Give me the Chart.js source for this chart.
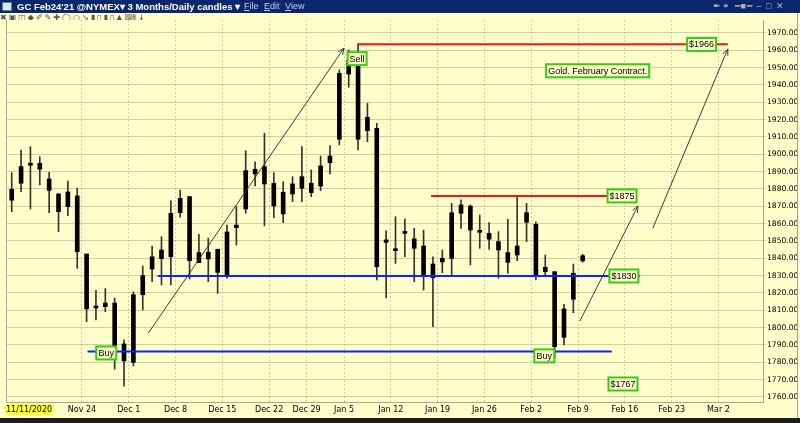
<!DOCTYPE html>
<html>
<head>
<meta charset="utf-8">
<script src="https://cdn.jsdelivr.net/npm/chart.js@4.4.1/dist/chart.umd.min.js"></script>
<style>
    html, body { margin: 0; padding: 0; width: 800px; height: 423px; overflow: hidden; background: #ffffcc; }
    #wrap { position: relative; width: 800px; height: 423px; }
    #cashless { position: absolute; left: 0; top: 0; }
    #titlebar { position: absolute; left: 0; top: 0; width: 800px; height: 13px; background: #0b266c; color: #fff; font: bold 9px "Liberation Sans", Arial, sans-serif; line-height: 13px; white-space: nowrap; }
    #titlebar .logo { position: absolute; left: 2px; top: 2px; width: 10px; height: 9px; background: #d8e8f0; border: 1px solid #5a8a5a; box-sizing: border-box; }
    #titlebar .name { position: absolute; left: 17px; top: 0; font-size: 9.5px; }
    #titlebar .menu { position: absolute; left: 244px; top: 0; font-weight: normal; color: #c8d0e8; word-spacing: 3px; }
    #titlebar .tools { position: absolute; left: 713px; top: 0; font-weight: normal; color: #b0b4c0; font-size: 9px; letter-spacing: 1px; }
    #toolbar { position: absolute; left: 0; top: 13px; width: 260px; height: 7px; overflow: hidden; color: #555; font: 8px "DejaVu Sans", sans-serif; line-height: 10px; white-space: nowrap; letter-spacing: 2px; }
    #rightedge { position: absolute; left: 797px; top: 13px; width: 1px; height: 405px; background: #a0a0a0; }
    #bottombar { position: absolute; left: 0; top: 418px; width: 800px; height: 5px; background: #1c1c1c; }
</style>
</head>
<body>
<div id="wrap">
    <canvas id="cashless" width="800" height="423"></canvas>
    <div id="titlebar">
        <span class="logo"></span>
        <span class="name">GC Feb24'21 @NYMEX&#9662; 3 Months/Daily candles &#9662;</span>
        <span class="menu"><u>F</u>ile <u>E</u>dit <u>V</u>iew</span>
        <span class="tools">&#10002;&#9901; &#9473;&#9632;&#9473; &#8210; &#9633; &#10005;</span>
    </div>
    <div id="toolbar">&#10006;&#9635;&#9707;&#9670;&#10000;&#9998;&#10010;&#9711;&#9675;&#8600;&#9646;&#9647;&#9646;&#9647;&#9650;&#9000;&#8595;</div>
    <div id="rightedge"></div>
    <div id="bottombar"></div>
</div>

<script>
/* ==========================================================
   Gold February contract - daily candles
==========================================================*/

// candles from Nov 12 2020 to Feb 9 2021 (trading-day index 1..62)
const candleOpen = [
    1873.5, 1883.3, 1894.2, 1894.8, 1885.8, 1877.1, 1869.8, 1876.0, 1842.5, 1811.7,
    1812.1, 1814.2, 1790.6, 1780.0, 1819.0, 1833.8, 1839.8, 1840.9, 1866.3, 1875.6,
    1837.5, 1843.5, 1845.2, 1829.8, 1857.7, 1868.5, 1891.4, 1892.9, 1883.3, 1865.6,
    1877.1, 1880.4, 1883.3, 1881.7, 1895.2, 1908.7, 1946.3, 1952.5, 1913.6, 1915.0,
    1849.2, 1845.4, 1854.4, 1851.2, 1847.1, 1828.8, 1837.9, 1840.0, 1866.0, 1870.2,
    1855.4, 1854.4, 1849.6, 1843.3, 1841.9, 1860.8, 1859.6, 1834.8, 1832.3, 1794.4,
    1816.4, 1838.5
];

const candleHigh = [
    1889.4, 1902.5, 1904.4, 1898.6, 1889.6, 1877.5, 1884.6, 1880.4, 1842.5, 1821.6,
    1822.5, 1817.0, 1792.9, 1820.7, 1835.6, 1847.1, 1852.5, 1873.1, 1879.4, 1875.6,
    1853.9, 1851.6, 1845.4, 1859.2, 1869.8, 1902.1, 1895.7, 1912.1, 1889.4, 1884.2,
    1887.1, 1904.4, 1891.0, 1899.0, 1905.0, 1948.7, 1960.2, 1963.1, 1929.4, 1917.9,
    1855.8, 1864.0, 1862.7, 1857.3, 1856.3, 1840.9, 1844.8, 1871.7, 1873.7, 1870.8,
    1865.0, 1860.6, 1855.4, 1862.5, 1875.6, 1871.7, 1861.1, 1841.9, 1832.3, 1813.5,
    1836.7, 1842.3
];

const candleLow = [
    1866.9, 1878.4, 1868.5, 1882.3, 1866.3, 1855.4, 1864.6, 1834.2, 1803.4, 1804.4,
    1809.2, 1776.0, 1766.3, 1777.9, 1810.2, 1826.5, 1824.6, 1824.6, 1863.7, 1828.1,
    1840.0, 1826.5, 1819.8, 1828.5, 1847.7, 1866.0, 1881.7, 1858.7, 1863.4, 1860.6,
    1872.7, 1872.7, 1875.6, 1879.0, 1888.7, 1905.4, 1938.7, 1902.5, 1907.3, 1827.5,
    1817.1, 1837.1, 1840.9, 1826.5, 1821.7, 1800.6, 1831.7, 1830.4, 1857.3, 1836.2,
    1845.8, 1845.2, 1828.5, 1831.4, 1838.6, 1849.6, 1827.5, 1829.8, 1782.3, 1790.0,
    1808.6, 1837.8
];

const candleClose = [
    1879.8, 1892.9, 1893.7, 1891.4, 1879.2, 1866.9, 1878.3, 1843.8, 1810.8, 1811.3,
    1814.2, 1788.0, 1780.8, 1819.0, 1830.0, 1840.9, 1844.8, 1866.0, 1874.6, 1838.6,
    1843.3, 1839.6, 1831.9, 1855.2, 1859.2, 1890.6, 1888.7, 1882.9, 1870.2, 1878.1,
    1882.9, 1887.1, 1877.9, 1893.3, 1899.0, 1946.7, 1954.4, 1908.7, 1921.4, 1835.2,
    1850.6, 1844.4, 1855.4, 1845.8, 1829.4, 1836.7, 1840.0, 1866.3, 1870.8, 1856.3,
    1855.0, 1851.0, 1844.8, 1837.7, 1847.1, 1866.3, 1830.4, 1832.3, 1789.0, 1810.8,
    1831.4, 1841.5
];

// week labels on the x axis and the trading-day index they start on
const weekLabels = [
    "Nov 24", "Dec 1", "Dec 8", "Dec 15", "Dec 22", "Dec 29", "Jan 5", "Jan 12",
    "Jan 19", "Jan 26", "Feb 2", "Feb 9", "Feb 16", "Feb 23", "Mar 2"
];

const weekStart = [9, 14, 19, 24, 29, 33, 37, 42, 47, 52, 57, 62, 67, 72, 77];

const startDate = "11/11/2020";

const priceTicks = [
    1760, 1770, 1780, 1790, 1800, 1810, 1820, 1830, 1840, 1850, 1860,
    1870, 1880, 1890, 1900, 1910, 1920, 1930, 1940, 1950, 1960, 1970
];

// horizontal levels: [from index, to index, price]
const redLevels = [
    [37.9, 77.5, 1963.5],
    [45.8, 65.1, 1876.0]
];

const blueLevels = [
    [16.6, 68.1, 1829.8],
    [9.1, 65.1, 1786.2]
];

// arrows: [from index, from price, to index, to price]
const arrowLines = [
    [15.6, 1796.9, 36.5, 1961.3],
    [61.7, 1803.8, 67.9, 1870.2],
    [69.5, 1857.5, 77.5, 1960.8]
];

// text callouts: [text, index, price]
const callouts = [
    ["$1966", 74.7, 1963.4],
    ["$1875", 66.2, 1876.0],
    ["$1830", 66.4, 1829.8],
    ["$1767", 66.3, 1767.5],
    ["Buy", 11.1, 1785.4],
    ["Buy", 57.9, 1783.7],
    ["Sell", 37.9, 1955.2],
    ["Gold. February Contract.", 63.6, 1948.2]
];

// =====================================
// Build datasets
// =====================================

const wickData = candleHigh.map((h, k) => ({ x: k + 1, y: [candleLow[k], h] }));

const bodyData = candleOpen.map((o, k) => ({
    x: k + 1,
    y: [Math.min(o, candleClose[k]), Math.max(o, candleClose[k])]
}));

const levelSet = (lv, color) => lv.map(l => ({
    type: "line",
    data: [{ x: l[0], y: l[2] }, { x: l[1], y: l[2] }],
    borderColor: color,
    borderWidth: 2,
    pointRadius: 0,
    order: 1
}));

const arrowSet = arrowLines.map(a => ({
    type: "line",
    data: [{ x: a[0], y: a[1] }, { x: a[2], y: a[3] }],
    borderColor: "#3a3a3a",
    borderWidth: 1,
    pointRadius: 0,
    order: 1
}));

// =====================================
// Overlay plugin (arrowheads, boxes, start date)
// =====================================

const overlay = {

    id: "overlay",

    beforeDatasetsDraw(chart) {

        const ctx = chart.ctx;
        const area = chart.chartArea;

        // left edge of the plot
        ctx.save();
        ctx.strokeStyle = "#a8a8a8";
        ctx.lineWidth = 1;
        ctx.beginPath();
        ctx.moveTo(area.left + 0.5, area.top);
        ctx.lineTo(area.left + 0.5, area.bottom);
        ctx.stroke();
        ctx.restore();

    },

    afterDatasetsDraw(chart) {

        const ctx = chart.ctx;
        const xs = chart.scales.x;
        const ys = chart.scales.y;

        ctx.save();

        // arrowheads
        ctx.strokeStyle = "#3a3a3a";
        ctx.lineWidth = 1;
        arrowLines.forEach(a => {
            const x1 = xs.getPixelForValue(a[0]), y1 = ys.getPixelForValue(a[1]);
            const x2 = xs.getPixelForValue(a[2]), y2 = ys.getPixelForValue(a[3]);
            const ang = Math.atan2(y2 - y1, x2 - x1);
            const len = 7;
            ctx.beginPath();
            ctx.moveTo(x2 - len * Math.cos(ang - 0.4), y2 - len * Math.sin(ang - 0.4));
            ctx.lineTo(x2, y2);
            ctx.lineTo(x2 - len * Math.cos(ang + 0.4), y2 - len * Math.sin(ang + 0.4));
            ctx.stroke();
        });

        // callout boxes
        ctx.font = "9px 'Liberation Sans', Arial, sans-serif";
        ctx.textAlign = "center";
        ctx.textBaseline = "middle";
        callouts.forEach(c => {
            const cx = xs.getPixelForValue(c[1]);
            const cy = ys.getPixelForValue(c[2]);
            const w = Math.round(ctx.measureText(c[0]).width) + 4;
            const h = 13;
            ctx.fillStyle = "#ffffcc";
            ctx.fillRect(cx - w / 2, cy - h / 2, w, h);
            ctx.strokeStyle = "#33cc11";
            ctx.lineWidth = 2;
            ctx.strokeRect(cx - w / 2, cy - h / 2, w, h);
            ctx.fillStyle = "#000";
            ctx.fillText(c[0], cx, cy + 0.5);
        });

        // start date at the bottom left
        ctx.font = "8px 'DejaVu Sans', sans-serif";
        ctx.textAlign = "left";
        const tw = ctx.measureText(startDate).width;
        ctx.fillStyle = "#ffff33";
        ctx.fillRect(5, 404, tw + 2, 11);
        ctx.fillStyle = "#000";
        ctx.fillText(startDate, 6, 410);

        ctx.restore();

    }

};

// =====================================
// Chart
// =====================================

const ctx = document.getElementById("cashless").getContext("2d");

new Chart(ctx, {

    type: "bar",

    data: {

        datasets: [

            {
                data: bodyData,
                backgroundColor: "#000",
                barThickness: 4,
                minBarLength: 2,
                grouped: false,
                order: 2
            },

            {
                data: wickData,
                backgroundColor: "#333",
                barThickness: 1,
                grouped: false,
                order: 3
            },

            ...levelSet(redLevels, "#ff1111"),

            ...levelSet(blueLevels, "#1020ff"),

            ...arrowSet

        ]

    },

    options: {

        responsive: false,

        animation: false,

        layout: {
            padding: { left: 6, top: 20, right: 0, bottom: 5 }
        },

        plugins: {
            legend: { display: false },
            tooltip: { enabled: false }
        },

        scales: {

            x: {
                type: "linear",
                min: 0.39,
                max: 81.26,
                offset: false,
                afterFit: s => { s.height = 16; },
                afterBuildTicks: s => {
                    s.ticks = weekStart.map(i => ({ value: i - 0.5 }));
                },
                ticks: {
                    autoSkip: false,
                    maxRotation: 0,
                    padding: 3,
                    color: "#000",
                    font: { family: "'DejaVu Sans', sans-serif", size: 8 },
                    callback: v => weekLabels[weekStart.indexOf(v + 0.5)]
                },
                grid: {
                    offset: false,
                    drawTicks: false,
                    color: "rgba(150,150,110,0.45)"
                },
                border: { display: true, color: "#a8a890", dash: [2, 2] }
            },

            y: {
                type: "linear",
                position: "right",
                min: 1757.1,
                max: 1977.5,
                afterFit: s => { s.width = 37; },
                afterBuildTicks: s => {
                    s.ticks = priceTicks.map(v => ({ value: v }));
                },
                ticks: {
                    padding: 1,
                    color: "#000",
                    font: { family: "'DejaVu Sans', sans-serif", size: 7.6 },
                    callback: v => v.toFixed(2)
                },
                grid: {
                    tickLength: 3,
                    color: "rgba(150,150,110,0.45)"
                },
                border: { display: true, color: "#a0a0a0" }
            }

        }

    },

    plugins: [overlay]

});
</script>
</body>
</html>
